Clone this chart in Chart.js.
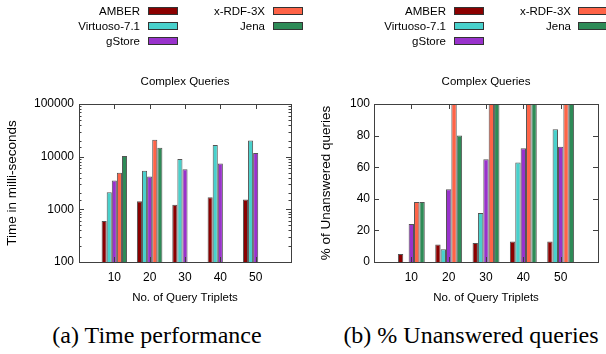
<!DOCTYPE html>
<html>
<head>
<meta charset="utf-8">
<script src="https://cdn.jsdelivr.net/npm/chart.js@4"></script>
<style>
    body { margin: 0; background: #fff; }
    #page { position: relative; width: 606px; height: 354px; background: #fff; font-family: 'Liberation Sans', Arial, sans-serif; }
    .box { position: absolute; top: 0; width: 303px; height: 310px; }
    .lg-text { position: absolute; font-size: 11.5px; line-height: 14px; color: #000; white-space: nowrap; text-align: right; }
    .lg-swatch { position: absolute; width: 30px; height: 8px; box-sizing: border-box; border: 1px solid #333; }
    .caption { position: absolute; top: 323px; width: 300px; text-align: center; font-family: 'Liberation Serif', 'DejaVu Serif', serif; font-size: 24px; line-height: 24px; color: #000; white-space: nowrap; }
</style>
</head>
<body>
<div id="page">
    <div class="box" style="left:0"><canvas id="timeChart"></canvas></div>
    <div class="box" style="left:303px"><canvas id="unansChart"></canvas></div>
    <div class="caption" style="left:7px">(a) Time performance</div>
    <div class="caption" style="left:321px">(b) % Unanswered queries</div>
</div>
<script>
const categories = ['10', '20', '30', '40', '50'];
const seriesNames = ['AMBER', 'Virtuoso-7.1', 'gStore', 'x-RDF-3X', 'Jena'];
const seriesColors = ['#8b0000', '#48d1cc', '#9932cc', '#ff6347', '#2e8b57'];

// (a) time in milli-seconds
const timeAmber = [600, 1430, 1220, 1700, 1540];
const timeVirtuoso = [2120, 5400, 9000, 16700, 20200];
const timeGstore = [3540, 4200, 5800, 7450, 11700];
const timeRdf3x = [4950, 21000, null, null, null];
const timeJena = [10300, 14800, null, null, null];
const timeTicks = [100, 1000, 10000, 100000];

// (b) % of unanswered queries
const unansAmber = [5, 11, 12, 13, 13];
const unansVirtuoso = [0, 8, 31, 63, 84];
const unansGstore = [24, 46, 65, 72, 73];
const unansRdf3x = [38, 100, 100, 100, 100];
const unansJena = [38, 80, 100, 100, 100];
const pctTicks = [0, 20, 40, 60, 80, 100];

Chart.defaults.font.family = "'Liberation Sans', Arial, sans-serif";
Chart.defaults.color = '#000';

// empty slot on each side of the clusters, like gnuplot's xrange
const xLabels = [''].concat(categories, ['']);
const pad = arr => [null].concat(arr, [null]);

function makeDatasets(series) {
    return series.map((values, i) => ({
        label: seriesNames[i],
        data: pad(values),
        backgroundColor: seriesColors[i],
        borderColor: '#555',
        borderWidth: 1,
        categoryPercentage: 0.72,
        barPercentage: 1,
    }));
}

// frame round the plot with inward ticks on all sides
const frameTicks = {
    id: 'frameTicks',
    afterDatasetsDraw(chart) {
        const {ctx, chartArea: a, scales} = chart;
        const x = scales.x, y = scales.y;
        const isLog = y.type === 'logarithmic';
        ctx.save();
        ctx.strokeStyle = '#404040';
        ctx.lineWidth = 1;
        ctx.beginPath();
        y.ticks.forEach(t => {
            const py = Math.round(y.getPixelForValue(t.value)) + 0.5;
            const len = (isLog && !timeTicks.includes(t.value)) ? 2.5 : 5;
            ctx.moveTo(a.left, py); ctx.lineTo(a.left + len, py);
            ctx.moveTo(a.right, py); ctx.lineTo(a.right - len, py);
        });
        x.ticks.forEach((t, i) => {
            if (!t.label) return;
            const px = Math.round(x.getPixelForTick(i)) + 0.5;
            ctx.moveTo(px, a.bottom); ctx.lineTo(px, a.bottom - 5);
            ctx.moveTo(px, a.top); ctx.lineTo(px, a.top + 5);
        });
        ctx.stroke();
        ctx.strokeRect(Math.round(a.left) + 0.5, Math.round(a.top) + 0.5,
            Math.round(a.right - a.left), Math.round(a.bottom - a.top));
        ctx.restore();
    }
};

function xScales() {
    return {
        x: {
            offset: false,
            afterFit: s => { s.height = 48; },
            grid: { display: false, drawTicks: false },
            border: { display: false },
            ticks: { padding: 8, autoSkip: false, maxRotation: 0, font: { size: 12 } },
            title: { display: true, text: 'No. of Query Triplets', font: { size: 11.5 }, padding: { top: 0, bottom: 5 } }
        },
        top: {
            position: 'top',
            offset: false,
            afterFit: s => { s.height = 44; },
            grid: { display: false, drawTicks: false },
            border: { display: false },
            ticks: { display: false },
            title: { display: true, text: 'Complex Queries', font: { size: 11.5 }, padding: { top: 14.8, bottom: 0 } }
        }
    };
}

const timeConfig = {
    type: 'bar',
    data: {
        labels: xLabels,
        datasets: makeDatasets([timeAmber, timeVirtuoso, timeGstore, timeRdf3x, timeJena])
    },
    options: {
        animation: false,
        responsive: true,
        maintainAspectRatio: false,
        layout: { padding: { top: 60, right: 12, left: 0, bottom: 0 } },
        plugins: { legend: { display: false }, tooltip: { enabled: false } },
        scales: Object.assign(xScales(), {
            y: {
                type: 'logarithmic',
                min: 100,
                max: 100000,
                afterFit: s => { s.width = 79; },
                grid: { display: false, drawTicks: false },
                border: { display: false },
                ticks: {
                    autoSkip: false,
                    padding: 5,
                    font: { size: 12 },
                    callback: v => timeTicks.includes(v) ? String(v) : ''
                },
                title: { display: true, text: 'Time in milli-seconds', font: { size: 13.5 }, padding: { top: 4, bottom: 0 } }
            }
        })
    },
    plugins: [frameTicks]
};

const unansConfig = {
    type: 'bar',
    data: {
        labels: xLabels,
        datasets: makeDatasets([unansAmber, unansVirtuoso, unansGstore, unansRdf3x, unansJena])
    },
    options: {
        animation: false,
        responsive: true,
        maintainAspectRatio: false,
        layout: { padding: { top: 60, right: 1.5, left: 0, bottom: 0 } },
        plugins: { legend: { display: false }, tooltip: { enabled: false } },
        scales: Object.assign(xScales(), {
            y: {
                min: 0,
                max: 100,
                afterFit: s => { s.width = 71; },
                grid: { display: false, drawTicks: false },
                border: { display: false },
                afterBuildTicks: s => { s.ticks = pctTicks.map(v => ({ value: v })); },
                ticks: { padding: 4, font: { size: 12 } },
                title: { display: true, text: '% of Unanswered queries', font: { size: 13.5 }, padding: { top: 15.4, bottom: 0 } }
            }
        })
    },
    plugins: [frameTicks]
};

const timeChart = new Chart(document.getElementById('timeChart'), timeConfig);
const unansChart = new Chart(document.getElementById('unansChart'), unansConfig);

//////////////////////// gnuplot style legends (text, then swatch)

function addLegend(textRight, swatchLeft) {
    const page = document.getElementById('page');
    seriesNames.forEach((name, i) => {
        const col = i < 3 ? 0 : 1;
        const row = i % 3;
        const cy = 11 + row * 14.75;
        const text = document.createElement('div');
        text.className = 'lg-text';
        text.textContent = name;
        text.style.right = (606 - textRight[col]) + 'px';
        text.style.top = (cy - 7) + 'px';
        page.appendChild(text);
        const sw = document.createElement('div');
        sw.className = 'lg-swatch';
        sw.style.left = swatchLeft[col] + 'px';
        sw.style.top = (cy - 4) + 'px';
        sw.style.background = seriesColors[i];
        page.appendChild(sw);
    });
}

addLegend([140, 265], [148, 273]);
addLegend([446, 571], [454, 578]);
</script>
</body>
</html>
